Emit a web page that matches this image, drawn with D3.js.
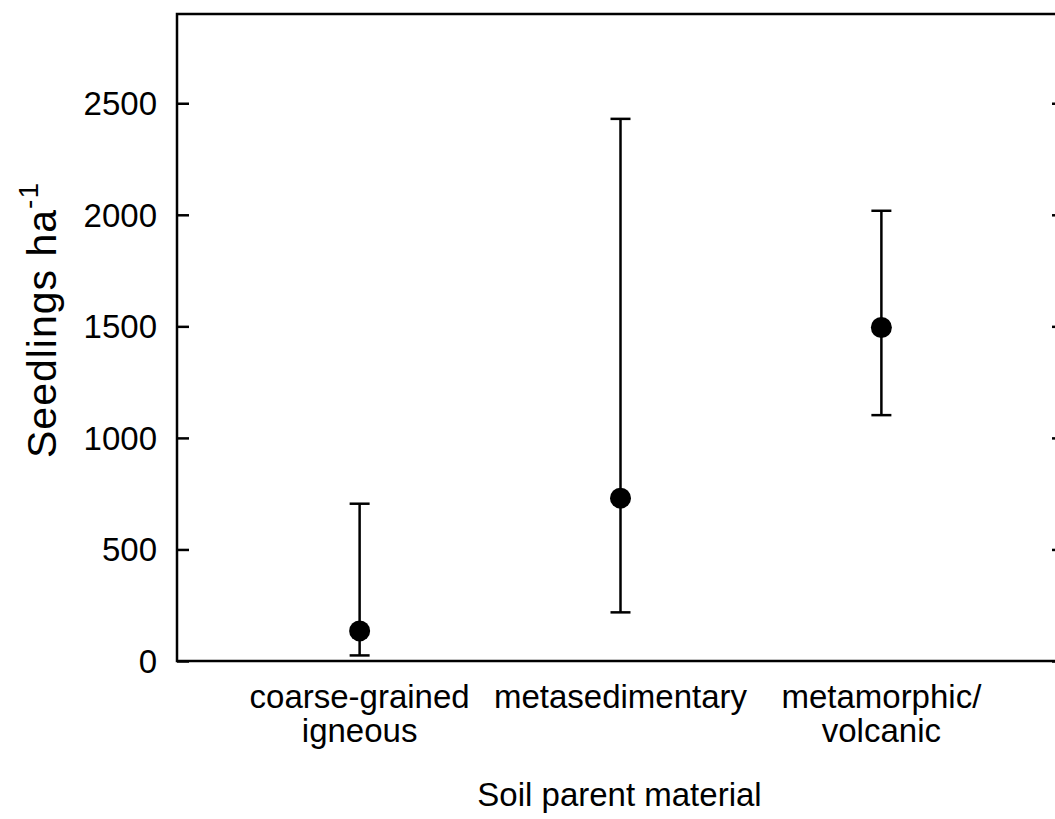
<!DOCTYPE html>
<html>
<head>
<meta charset="utf-8">
<script src="https://cdn.jsdelivr.net/npm/d3@7"></script>
<style>
  html, body { margin: 0; padding: 0; background: #fff; }
  svg { display: block; }
  text { font-family: "Liberation Sans", Arial, sans-serif; fill: #000; }
</style>
</head>
<body>
<svg id="chart" width="1055" height="819"></svg>
<script>
// Seedling density by soil parent material (mean with interval)
const categories = [["coarse-grained", "igneous"], ["metasedimentary"], ["metamorphic/", "volcanic"]];
const meanValues = [135, 730, 1495];
const lowerValues = [25, 218, 1102];
const upperValues = [705, 2430, 2018];
const yTicks = [0, 500, 1000, 1500, 2000, 2500];

const svg = d3.select("#chart");
const plotLeft = 177, plotRight = 1064, plotTop = 14, plotBottom = 661;

const x = d3.scaleLinear().domain([0.3, 3.7]).range([plotLeft, plotRight]);
const y = d3.scaleLinear().domain([0, 2900]).range([plotBottom, plotTop]);

const black = "#000";

// Frame
svg.append("rect")
  .attr("x", plotLeft).attr("y", plotTop)
  .attr("width", plotRight - plotLeft).attr("height", plotBottom - plotTop)
  .attr("fill", "none").attr("stroke", black).attr("stroke-width", 2.5);

// Left axis: inward ticks
const yAxisL = svg.append("g")
  .attr("transform", `translate(${plotLeft},0)`)
  .call(d3.axisRight(y).tickValues(yTicks).tickSize(12).tickFormat(""));
yAxisL.select(".domain").remove();
yAxisL.selectAll("line").attr("stroke", black).attr("stroke-width", 2.5);

// Right axis: inward ticks
const yAxisR = svg.append("g")
  .attr("transform", `translate(${plotRight},0)`)
  .call(d3.axisLeft(y).tickValues(yTicks).tickSize(12).tickFormat(""));
yAxisR.select(".domain").remove();
yAxisR.selectAll("line").attr("stroke", black).attr("stroke-width", 2.5);

// Tick labels
svg.append("g").selectAll("text")
  .data(yTicks)
  .join("text")
  .attr("x", plotLeft - 20)
  .attr("y", d => y(d))
  .attr("dy", "0.36em")
  .attr("text-anchor", "end")
  .attr("font-size", 33)
  .text(d => d);

// Category labels
const catG = svg.append("g");
categories.forEach((lines, i) => {
  const t = catG.append("text")
    .attr("text-anchor", "middle")
    .attr("font-size", 33);
  lines.forEach((ln, j) => {
    t.append("tspan")
      .attr("x", x(i + 1))
      .attr("y", 708 + j * 34)
      .text(ln);
  });
});

// Axis titles
svg.append("text")
  .attr("x", (plotLeft + plotRight) / 2 - 1)
  .attr("y", 806)
  .attr("text-anchor", "middle")
  .attr("font-size", 33)
  .text("Soil parent material");

const yTitle = svg.append("text")
  .attr("transform", `translate(56,458) rotate(-90)`)
  .attr("text-anchor", "start")
  .attr("font-size", 41)
  .attr("letter-spacing", 1);
yTitle.append("tspan").text("Seedlings ha");
yTitle.append("tspan").attr("font-size", 28).attr("dy", -18).text("-1");

// Error bars and means
const pts = svg.append("g");
meanValues.forEach((m, i) => {
  const cx = x(i + 1);
  pts.append("line")
    .attr("x1", cx).attr("x2", cx)
    .attr("y1", y(lowerValues[i])).attr("y2", y(upperValues[i]))
    .attr("stroke", black).attr("stroke-width", 2.5);
  [lowerValues[i], upperValues[i]].forEach(v => {
    pts.append("line")
      .attr("x1", cx - 10).attr("x2", cx + 10)
      .attr("y1", y(v)).attr("y2", y(v))
      .attr("stroke", black).attr("stroke-width", 2.5);
  });
  pts.append("circle")
    .attr("cx", cx).attr("cy", y(m))
    .attr("r", 10.5)
    .attr("fill", black);
});
</script>
</body>
</html>
